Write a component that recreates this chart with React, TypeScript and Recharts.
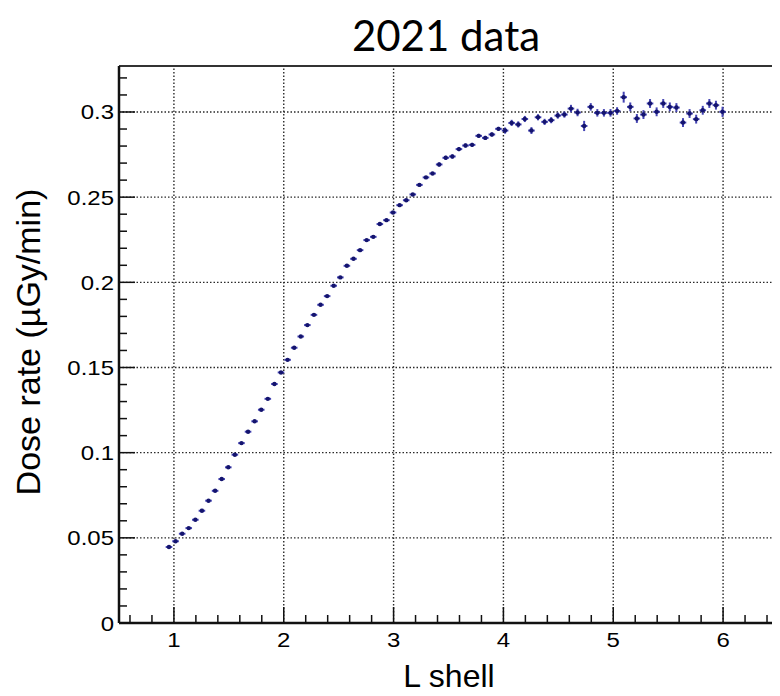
import React from 'react';
import { ScatterChart, Scatter, XAxis, YAxis, ErrorBar, ReferenceLine } from 'recharts';

// L shell bin centres
const lShell = [
  0.955, 1.015, 1.075, 1.135, 1.195, 1.255, 1.315, 1.375, 1.435, 1.495,
  1.555, 1.615, 1.675, 1.735, 1.795, 1.855, 1.915, 1.975, 2.035, 2.095,
  2.155, 2.215, 2.275, 2.335, 2.395, 2.455, 2.515, 2.575, 2.635, 2.695,
  2.755, 2.815, 2.875, 2.935, 2.995, 3.055, 3.115, 3.175, 3.235, 3.295,
  3.355, 3.415, 3.475, 3.535, 3.595, 3.655, 3.715, 3.775, 3.835, 3.895,
  3.955, 4.015, 4.075, 4.135, 4.195, 4.255, 4.315, 4.375, 4.435, 4.495,
  4.555, 4.615, 4.675, 4.735, 4.795, 4.855, 4.915, 4.975, 5.035, 5.095,
  5.155, 5.215, 5.275, 5.335, 5.395, 5.455, 5.515, 5.575, 5.635, 5.695,
  5.755, 5.815, 5.875, 5.935, 5.995,
];

// Dose rate (µGy/min)
const doseRate = [
  0.0446, 0.0480, 0.0524, 0.0557, 0.0606, 0.0659, 0.0718, 0.0776, 0.0845, 0.0914,
  0.0988, 0.1056, 0.1123, 0.1184, 0.1252, 0.1316, 0.1403, 0.1471, 0.1545, 0.1616,
  0.1682, 0.1749, 0.1809, 0.1868, 0.1919, 0.1980, 0.2029, 0.2097, 0.2138, 0.2189,
  0.2248, 0.2267, 0.2342, 0.2365, 0.2410, 0.2453, 0.2482, 0.2516, 0.2572, 0.2616,
  0.2639, 0.2692, 0.2731, 0.2739, 0.2782, 0.2803, 0.2807, 0.2860, 0.2848, 0.2868,
  0.2901, 0.2891, 0.2936, 0.2927, 0.2959, 0.2891, 0.2969, 0.2942, 0.2952, 0.2979,
  0.2985, 0.3020, 0.2997, 0.2918, 0.3030, 0.2995, 0.2995, 0.2995, 0.3006, 0.3087,
  0.3030, 0.2962, 0.2985, 0.3050, 0.3001, 0.3050, 0.3030, 0.3026, 0.2938, 0.2991,
  0.2958, 0.3010, 0.3050, 0.3040, 0.3001,
];

// Statistical error on dose rate
const doseErr = [
  0.0003, 0.0003, 0.0003, 0.0003, 0.0003, 0.0003, 0.0003, 0.0003, 0.0003, 0.0003,
  0.0003, 0.0003, 0.0003, 0.0003, 0.0003, 0.0003, 0.0005, 0.0005, 0.0005, 0.0005,
  0.0005, 0.0005, 0.0005, 0.0005, 0.0005, 0.0005, 0.0005, 0.0005, 0.0005, 0.0005,
  0.0005, 0.0008, 0.0008, 0.0008, 0.0008, 0.0008, 0.0008, 0.0008, 0.0008, 0.0008,
  0.0008, 0.0012, 0.0012, 0.0012, 0.0012, 0.0012, 0.0012, 0.0012, 0.0012, 0.0012,
  0.0012, 0.0018, 0.0018, 0.0018, 0.0018, 0.0020, 0.0018, 0.0018, 0.0018, 0.0018,
  0.0018, 0.0022, 0.0022, 0.0030, 0.0022, 0.0022, 0.0022, 0.0022, 0.0022, 0.0032,
  0.0026, 0.0026, 0.0026, 0.0026, 0.0026, 0.0026, 0.0026, 0.0026, 0.0026, 0.0026,
  0.0026, 0.0026, 0.0026, 0.0026, 0.0030,
];

const binHalfWidth = 0.03;

const xMajorTicks = [1, 2, 3, 4, 5, 6];
const xAllTicks = [
  0.6, 0.8, 1, 1.2, 1.4, 1.6, 1.8, 2, 2.2, 2.4, 2.6, 2.8, 3, 3.2, 3.4, 3.6, 3.8,
  4, 4.2, 4.4, 4.6, 4.8, 5, 5.2, 5.4, 5.6, 5.8, 6, 6.2, 6.4,
];
const yMajorTicks = [0, 0.05, 0.1, 0.15, 0.2, 0.25, 0.3];
const yAllTicks = [
  0, 0.01, 0.02, 0.03, 0.04, 0.05, 0.06, 0.07, 0.08, 0.09, 0.1, 0.11, 0.12, 0.13,
  0.14, 0.15, 0.16, 0.17, 0.18, 0.19, 0.2, 0.21, 0.22, 0.23, 0.24, 0.25, 0.26,
  0.27, 0.28, 0.29, 0.3, 0.31, 0.32,
];
const xDomain = [0.5, 6.5];
const yDomain = [0, 0.327];

const data = lShell.map((l, i) => ({ l, dose: doseRate[i], ex: binHalfWidth, ey: doseErr[i] }));

const AXIS_FONT = "'Liberation Sans', Arial, Helvetica, sans-serif";

const XTick = (props: any) => {
  const { x, y, payload } = props;
  const v = payload.value;
  const major = xMajorTicks.includes(v);
  return (
    <g>
      <line x1={x} x2={x} y1={y} y2={y - (major ? 16 : 8)} stroke="#111" strokeWidth={1.5} />
      {major && (
        <text
          transform={`translate(${x}, ${y + 24}) scale(1, 0.82)`}
          textAnchor="middle"
          fontSize={24}
          fontFamily={AXIS_FONT}
          fill="#000"
        >
          {String(v)}
        </text>
      )}
    </g>
  );
};

const YTick = (props: any) => {
  const { x, y, payload } = props;
  const v = payload.value;
  const major = yMajorTicks.includes(v);
  return (
    <g>
      <line x1={x} x2={x + (major ? 16 : 8)} y1={y} y2={y} stroke="#111" strokeWidth={1.5} />
      {major && (
        <text
          transform={`translate(${x - 5}, ${y + 7.5}) scale(1, 0.85)`}
          textAnchor="end"
          fontSize={24}
          fontFamily={AXIS_FONT}
          fill="#000"
        >
          {String(v)}
        </text>
      )}
    </g>
  );
};

const Dot = (props: any) => {
  const { cx, cy } = props;
  if (cx == null || cy == null) return null;
  return <circle cx={cx} cy={cy} r={2.2} fill="#14146e" />;
};

const GRID = { stroke: '#2a2a2a', strokeWidth: 1.4, strokeDasharray: '1.5 2' };

export default function App() {
  return (
    <div style={{ position: 'relative', width: 772, height: 688 }}>
      <ScatterChart width={772} height={688} margin={{ top: 58, right: 2, left: 0, bottom: 0 }}>
        <XAxis
          type="number"
          dataKey="l"
          domain={xDomain}
          ticks={xAllTicks}
          interval={0}
          tickSize={0}
          tickMargin={0}
          tickLine={false}
          tick={<XTick />}
          height={73}
          axisLine={{ stroke: '#111', strokeWidth: 2.5 }}
          allowDataOverflow
        />
        <YAxis
          type="number"
          dataKey="dose"
          domain={yDomain}
          ticks={yAllTicks}
          interval={0}
          tickSize={0}
          tickMargin={0}
          tickLine={false}
          tick={<YTick />}
          width={111}
          axisLine={{ stroke: '#111', strokeWidth: 2.5 }}
          allowDataOverflow
        />
        {xMajorTicks.map((v) => (
          <ReferenceLine key={'gx' + v} x={v} {...GRID} />
        ))}
        {yMajorTicks.filter((v) => v > 0).map((v) => (
          <ReferenceLine key={'gy' + v} y={v} {...GRID} />
        ))}
        <ReferenceLine y={yDomain[1]} stroke="#333" strokeWidth={2} />
        <ReferenceLine x={xDomain[1]} stroke="#333" strokeWidth={2} />
        <Scatter data={data} dataKey="dose" shape={<Dot />} isAnimationActive={false} fill="#14146e">
          <ErrorBar dataKey="ey" direction="y" width={0} stroke="#4444b4" strokeWidth={2} isAnimationActive={false} />
          <ErrorBar dataKey="ex" direction="x" width={0} stroke="#4444b4" strokeWidth={2} isAnimationActive={false} />
        </Scatter>
      </ScatterChart>
      <svg
        width={772}
        height={688}
        style={{ position: 'absolute', left: 0, top: 0, pointerEvents: 'none' }}
      >
        <text x={438} y={43} textAnchor="middle" fontSize={42} fontFamily="Lato, 'Open Sans', sans-serif" fill="#000">
          2021 data
        </text>
        <text x={441} y={679} textAnchor="middle" fontSize={32} fontFamily={AXIS_FONT} fill="#000">
          L shell
        </text>
        <text
          transform="translate(32, 334) rotate(-90)"
          textAnchor="middle"
          fontSize={34}
          fontFamily={AXIS_FONT}
          fill="#000"
        >
          Dose rate (µGy/min)
        </text>
      </svg>
    </div>
  );
}
